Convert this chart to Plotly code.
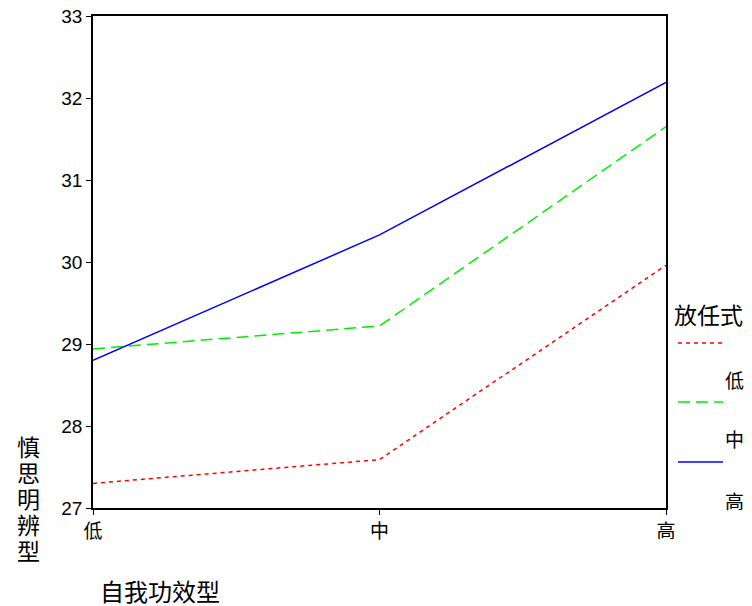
import plotly.graph_objects as go

categories = ["低", "中", "高"]
series_names = ["低", "中", "高"]
red_vals = [27.30, 27.59, 29.96]
green_vals = [28.94, 29.22, 31.65]
blue_vals = [28.80, 30.33, 32.19]
y_ticks = [27, 28, 29, 30, 31, 32, 33]
y_title = "慎思明辨型"
x_title = "自我功效型"
legend_title = "放任式"

colors = ["#ff0000", "#00ee00", "#0000ff"]
dashes = ["4px,4px", "12px,6px", "solid"]
values = [red_vals, green_vals, blue_vals]

fig = go.Figure()
for name, vals, c, d in zip(series_names, values, colors, dashes):
    fig.add_trace(go.Scatter(x=list(range(len(categories))), y=vals, mode="lines",
                             name=name, line=dict(color=c, width=1.5, dash=d),
                             showlegend=False))

# page offset of the figure inside the browser (body margin)
OFF = 8
W, H = 752, 606
# desired plot box in page pixels
PL, PR, PT, PB = 93, 666, 16, 508
L, T = PL - OFF, PT - OFF
R, B = W - (PR - OFF), H - (PB - OFF)
pw, ph = W - L - R, H - T - B

def px(x):
    return (x - OFF - L) / pw

def py(y):
    return (H - B - (y - OFF)) / ph

fig.update_layout(
    width=W, height=H,
    margin=dict(l=L, r=R, t=T, b=B, autoexpand=False),
    paper_bgcolor="white", plot_bgcolor="white",
    font=dict(family="Liberation Sans, Noto Sans CJK SC", color="black"),
    xaxis=dict(range=[0, 2], tickmode="array", tickvals=[0, 1, 2], ticktext=categories,
               showgrid=False, zeroline=False, showline=True, linecolor="black", linewidth=1.5,
               mirror=True, ticks="outside", ticklen=5, tickcolor="black", automargin=False,
               ticklabeloverflow="allow",
               tickfont=dict(size=19, family="Noto Sans CJK SC")),
    yaxis=dict(range=[27, 33], tickvals=y_ticks, showgrid=False, zeroline=False,
               showline=True, linecolor="black", linewidth=1.5, mirror=True, automargin=False,
               ticks="outside", ticklen=5, tickcolor="black", ticklabeloverflow="allow",
               tickfont=dict(size=19, family="Liberation Sans")),
)

def ann(text, x, y, size, **kw):
    return dict(text=text, x=px(x), y=py(y), xref="paper", yref="paper",
                xanchor="center", yanchor="middle", showarrow=False,
                font=dict(size=size, family="Noto Sans CJK SC"), **kw)

annotations = []
for i, ch in enumerate(y_title):
    annotations.append(ann(ch, 28, 446 + 26 * i, 23))
annotations.append(ann(x_title, 160, 590, 24))
annotations.append(ann(legend_title, 708, 314, 23))

label_ys = [380, 438, 500]
line_ys = [343, 402, 462]
shapes = []
for name, c, d, ly, sy in zip(series_names, colors, dashes, label_ys, line_ys):
    annotations.append(ann(name, 734, ly, 19))
    shapes.append(dict(type="line", xref="paper", yref="paper", x0=px(678), x1=px(723),
                       y0=py(sy), y1=py(sy), line=dict(color=c, width=1.5, dash=d)))
fig.update_layout(annotations=annotations, shapes=shapes)

fig.write_html("out.html")
